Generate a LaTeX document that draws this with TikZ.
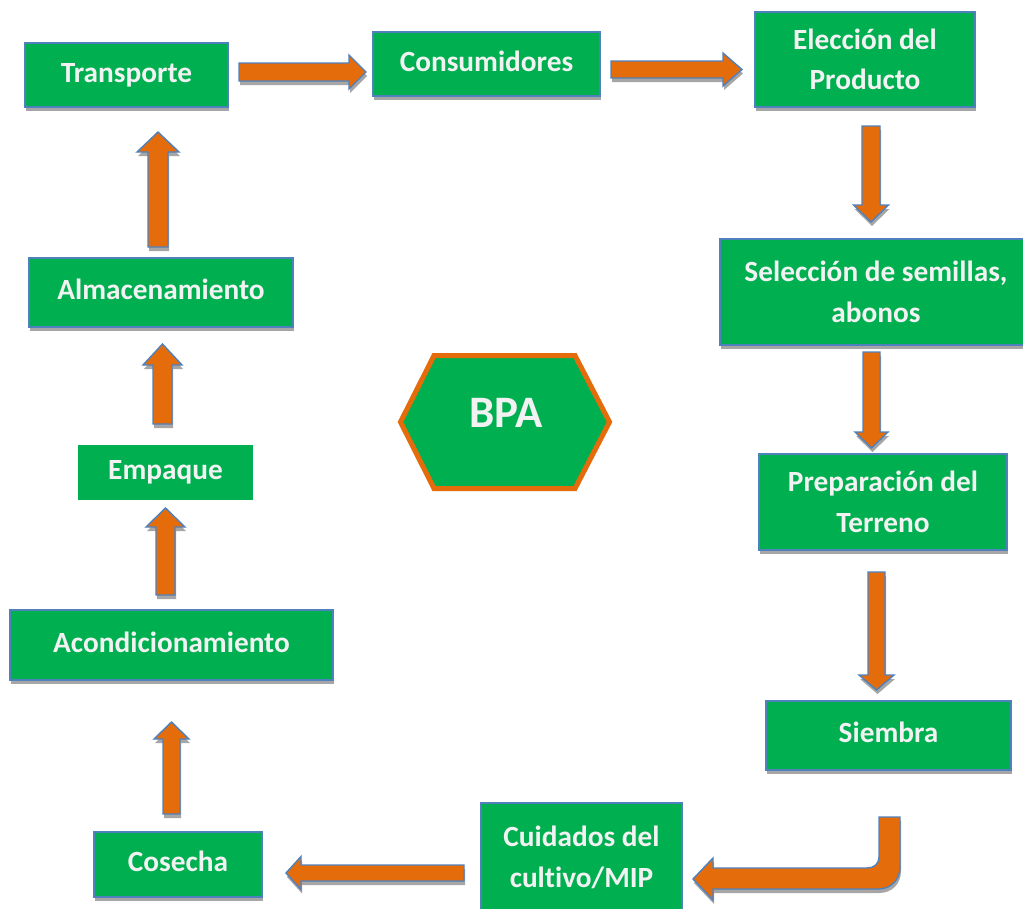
\documentclass[tikz,border=0pt]{standalone}
\usepackage{fontspec}
\setmainfont{Carlito}[Ligatures={TeX,NoCommon}]
\usetikzlibrary{calc,shadows}
\definecolor{boxgreen}{HTML}{00B050}
\definecolor{arrorange}{HTML}{E46C0A}
\definecolor{edgeblue}{HTML}{4F81BD}
\definecolor{shadowgray}{HTML}{A6A6A6}
\definecolor{txtwhite}{HTML}{F2F2F2}
\newcommand\boxfont{\bfseries\fontsize{29.3}{40.5}\selectfont}
\newcommand\blockarrow[5]{%
  \path let \p1=(#1), \p2=(#2) in \pgfextra{%
    \pgfmathsetmacro\tmplen{veclen(\x2-\x1,\y2-\y1)}\xdef\barlen{\tmplen}%
    \pgfmathsetmacro\tmpang{atan2(\y2-\y1,\x2-\x1)}\xdef\barang{\tmpang}};
  \begin{scope}[shift={(#1)},xshift=1pt,yshift=-4pt,rotate=\barang]
    \fill[shadowgray] (0,-#3/2) -- (\barlen-#5,-#3/2) -- (\barlen-#5,-#4/2) -- (\barlen,0)
      -- (\barlen-#5,#4/2) -- (\barlen-#5,#3/2) -- (0,#3/2) -- cycle;
  \end{scope}
  \begin{scope}[shift={(#1)},rotate=\barang]
    \draw[arrowbody] (0,-#3/2) -- (\barlen-#5,-#3/2) -- (\barlen-#5,-#4/2) -- (\barlen,0)
      -- (\barlen-#5,#4/2) -- (\barlen-#5,#3/2) -- (0,#3/2) -- cycle;
  \end{scope}}
\tikzset{
  boxbase/.style={fill=boxgreen, text=txtwhite, font=\boxfont, inner sep=0pt, align=center},
  box/.style={boxbase, draw=edgeblue, line width=1.3pt,
    drop shadow={shadow xshift=1pt, shadow yshift=-4pt, fill=shadowgray, opacity=1}},
  onel/.style={text height=20pt, text depth=6pt},
  arrowbody/.style={fill=arrorange, draw=edgeblue, line width=1.4pt, line join=miter},
  hexstyle/.style={fill=boxgreen, draw=arrorange, line width=5pt, line join=miter}
}
\begin{document}
\begin{tikzpicture}[x=1pt,y=-1pt]
\path[fill=white] (0,0) rectangle (1023,908);
\useasboundingbox (0,0) rectangle (1023,908);

% boxes
\node[box, onel, minimum width=203pt, minimum height=64pt] (trans) at (126.5,75) {Transporte};
\node[box, onel, minimum width=227pt, minimum height=64pt] (cons) at (486.5,64) {Consumidores};
\node[box, minimum width=220pt, minimum height=95pt] (elec) at (865,59.5) {Elección del\\Producto};
\node[box, minimum width=312pt, minimum height=106pt] (sel) at (876,292) {Selección de semillas,\\abonos};
\node[box, minimum width=248pt, minimum height=96pt] (prep) at (883,502) {Preparación del\\Terreno};
\node[box, onel, minimum width=245pt, minimum height=69pt] (siem) at (888.5,735.5) {Siembra};
\node[box, minimum width=201pt, minimum height=109pt] (cuid) at (581.5,857.5) {Cuidados del\\cultivo/MIP};
\node[box, onel, minimum width=168pt, minimum height=65pt] (cos) at (178,864.5) {Cosecha};
\node[box, onel, minimum width=323pt, minimum height=70pt] (acon) at (171.5,645) {Acondicionamiento};
\node[boxbase, onel, minimum width=175pt, minimum height=55pt] (emp) at (165.5,472.5) {Empaque};
\node[box, onel, minimum width=264pt, minimum height=69pt] (alm) at (161,292.5) {Almacenamiento};

% central hexagon
\draw[hexstyle] (400.5,422) -- (434,355.5) -- (575,355.5) -- (609.5,422) -- (575,488.5) -- (434,488.5) -- cycle;
\node[text=txtwhite, font=\bfseries\fontsize{45}{54}\selectfont, anchor=base, inner sep=0pt] (bpa) at (506,427.5) {BPA};

% arrow end points
\coordinate (a1s) at (239,72);   \coordinate (a1e) at (366,72);
\coordinate (a2s) at (611,69.5); \coordinate (a2e) at (742,69.5);
\coordinate (a3s) at (871,126);  \coordinate (a3e) at (871,222);
\coordinate (a4s) at (871.5,352); \coordinate (a4e) at (871.5,448);
\coordinate (a5s) at (876.5,572); \coordinate (a5e) at (876.5,690);
\coordinate (a6s) at (158,247);  \coordinate (a6e) at (158,132);
\coordinate (a7s) at (162.5,424); \coordinate (a7e) at (162.5,344);
\coordinate (a8s) at (165.5,595); \coordinate (a8e) at (165.5,508);
\coordinate (a9s) at (171.5,814); \coordinate (a9e) at (171.5,722);
\coordinate (a10s) at (464,873); \coordinate (a10e) at (286,873);

\blockarrow{a1s}{a1e}{18}{34}{17}
\blockarrow{a2s}{a2e}{17}{33}{19}
\blockarrow{a3s}{a3e}{18}{35}{17}
\blockarrow{a4s}{a4e}{17}{33}{16}
\blockarrow{a5s}{a5e}{17}{35}{15}
\blockarrow{a6s}{a6e}{20}{42}{20}
\blockarrow{a7s}{a7e}{19}{39}{21}
\blockarrow{a8s}{a8e}{19}{39}{19}
\blockarrow{a9s}{a9e}{17}{35}{17}
\blockarrow{a10s}{a10e}{16}{33}{15}

% bent arrow Siembra -> Cuidados
\begin{scope}[xshift=1pt,yshift=-4pt]
\fill[shadowgray] (879,817) -- (900,817) -- (900,867) .. controls (900,880) and (891,889) .. (878,889)
  -- (713,889) -- (713,900) -- (693,879) -- (713,858) -- (713,868) -- (867,868)
  .. controls (874,868) and (879,864) .. (879,857) -- cycle;
\end{scope}
\draw[arrowbody] (879,817) -- (900,817) -- (900,867) .. controls (900,880) and (891,889) .. (878,889)
  -- (713,889) -- (713,900) -- (693,879) -- (713,858) -- (713,868) -- (867,868)
  .. controls (874,868) and (879,864) .. (879,857) -- cycle;
\end{tikzpicture}
\end{document}
